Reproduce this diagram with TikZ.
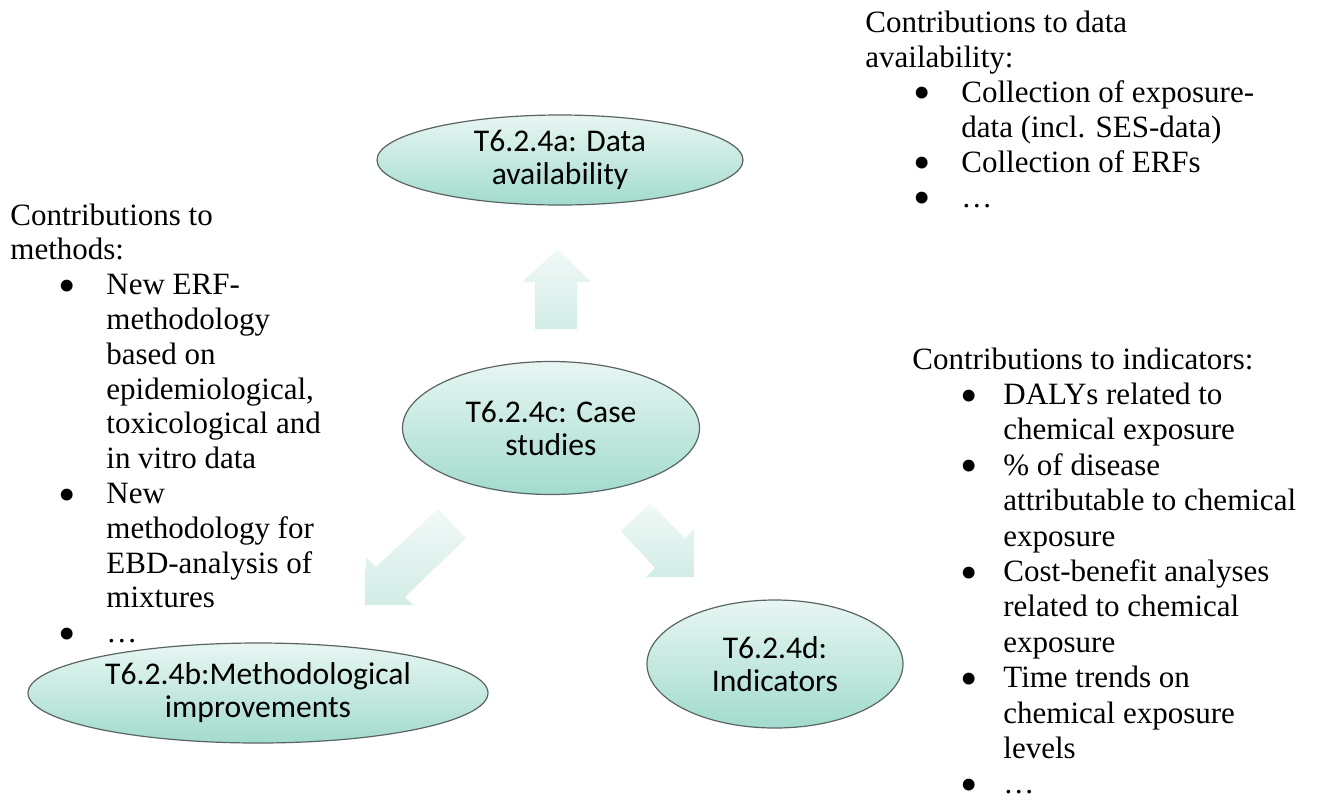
\documentclass[tikz,border=0pt]{standalone}
\usepackage{fontspec}
\setmainfont{Liberation Serif}
\newfontfamily\calib{Carlito}
\usetikzlibrary{shapes.geometric}
\definecolor{elltop}{RGB}{232,246,243}
\definecolor{ellbot}{RGB}{162,219,205}
\definecolor{arrtop}{RGB}{241,249,247}
\definecolor{arrbot}{RGB}{210,236,230}
\definecolor{ellline}{RGB}{90,100,100}
\newcommand{\bul}{\raisebox{-0.25em}{\scalebox{1.6}{\textbullet}}}
\tikzset{
  ell/.style={ellipse, draw=ellline, line width=0.6pt, top color=elltop, bottom color=ellbot,
    inner sep=0pt, align=center, font=\calib\fontsize{15.8}{16.5}\selectfont},
  blockarrow/.style={top color=arrtop, bottom color=arrbot, draw=none},
  txt/.style={anchor=base west, inner sep=0pt, font=\fontsize{15.5}{#1}\selectfont},
  txt/.default={17.5pt}
}
\begin{document}
\begin{tikzpicture}[x=0.5pt,y=-0.5pt]
\useasboundingbox (0,0) rectangle (1335,800);
% ellipses
\node[ell, minimum width=183pt, minimum height=45pt] (A) at (560,160) {T6.2.4a: Data\\availability};
\node[ell, minimum width=148.5pt, minimum height=66.5pt] (C) at (551,428) {T6.2.4c: Case\\studies};
\node[ell, minimum width=230pt, minimum height=50pt] (B) at (258,693) {T6.2.4b:Methodological\\improvements};
\node[ell, minimum width=128pt, minimum height=64pt] (D) at (775,664) {T6.2.4d:\\Indicators};
% block arrows
\path[blockarrow] (558,249) -- (591,282) -- (577,282) -- (577,329) -- (535,329) -- (535,282) -- (522,282) -- cycle;
\path[blockarrow] (438,509) -- (376,567) -- (366,557) -- (365,605) -- (413,605) -- (405,597) -- (466,538) -- cycle;
\path[blockarrow] (650,503) -- (621,531) -- (655,568) -- (646,577) -- (694,577) -- (694,529) -- (685,538) -- cycle;
% text blocks
\node[txt=17.4pt] (methods) at (10,225) {\begin{tabular}[t]{@{\hspace{24pt}}p{24pt}@{}l@{}}
\multicolumn{2}{@{}l@{}}{Contributions to}\\
\multicolumn{2}{@{}l@{}}{methods:}\\
\bul & New ERF-\\
& methodology\\
& based on\\
& epidemiological,\\
& toxicological and\\
& in vitro data\\
\bul & New\\
& methodology for\\
& EBD-analysis of\\
& mixtures\\
\bul & \dots
\end{tabular}};
\node[txt=17.5pt] (data) at (865,32) {\begin{tabular}[t]{@{\hspace{24pt}}p{24pt}@{}l@{}}
\multicolumn{2}{@{}l@{}}{Contributions to data}\\
\multicolumn{2}{@{}l@{}}{availability:}\\
\bul & Collection of exposure-\\
& data (incl. SES-data)\\
\bul & Collection of ERFs\\
\bul & \dots
\end{tabular}};
\node[txt=17.7pt] (indic) at (912,369) {\begin{tabular}[t]{@{\hspace{24pt}}p{21.5pt}@{}l@{}}
\multicolumn{2}{@{}l@{}}{Contributions to indicators:}\\
\bul & DALYs related to\\
& chemical exposure\\
\bul & \% of disease\\
& attributable to chemical\\
& exposure\\
\bul & Cost-benefit analyses\\
& related to chemical\\
& exposure\\
\bul & Time trends on\\
& chemical exposure\\
& levels\\
\bul & \dots
\end{tabular}};
\end{tikzpicture}
\end{document}
